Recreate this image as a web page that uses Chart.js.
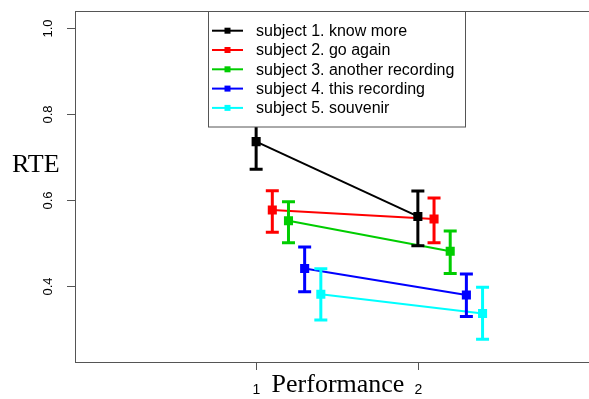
<!DOCTYPE html>
<html>
<head>
<meta charset="utf-8">
<script src="https://cdn.jsdelivr.net/npm/chart.js@4.4.0/dist/chart.umd.min.js"></script>
<style>
  html, body { margin: 0; padding: 0; background: #fff; overflow: hidden; }
  #wrap { width: 620px; height: 399px; }
</style>
</head>
<body>
<div id="wrap"><canvas id="rteChart" width="620" height="399"></canvas></div>
<script>
// performance sessions on the x axis
const performance = [1, 2];
const xTicks = [1, 2];
const yTicks = [0.4, 0.6, 0.8, 1.0];

const subjects = [
    'subject 1. know more',
    'subject 2. go again',
    'subject 3. another recording',
    'subject 4. this recording',
    'subject 5. souvenir'
];
const colors = ['#000000', '#FF0000', '#00CD00', '#0000FF', '#00FFFF'];
// small horizontal dodge per subject so the bars don't overlap
const dodge = [0, 0.1, 0.2, 0.3, 0.4];

// mean RTE, lower and upper error bar ends (session 1, session 2)
const subj1 = [0.736, 0.562];
const subj1Lo = [0.672, 0.494];
const subj1Hi = [0.800, 0.621];

const subj2 = [0.577, 0.556];
const subj2Lo = [0.525, 0.501];
const subj2Hi = [0.622, 0.605];

const subj3 = [0.552, 0.481];
const subj3Lo = [0.501, 0.429];
const subj3Hi = [0.596, 0.528];

const subj4 = [0.441, 0.379];
const subj4Lo = [0.387, 0.329];
const subj4Hi = [0.491, 0.428];

const subj5 = [0.381, 0.336];
const subj5Lo = [0.321, 0.276];
const subj5Hi = [0.440, 0.397];

const means = [subj1, subj2, subj3, subj4, subj5];
const lows = [subj1Lo, subj2Lo, subj3Lo, subj4Lo, subj5Lo];
const highs = [subj1Hi, subj2Hi, subj3Hi, subj4Hi, subj5Hi];

const datasets = subjects.map((name, i) => ({
    label: name,
    data: performance.map((p, j) => ({ x: p + dodge[i], y: means[i][j], lo: lows[i][j], hi: highs[i][j] })),
    borderColor: colors[i],
    backgroundColor: colors[i],
    borderWidth: 2,
    pointStyle: 'rect',
    pointRadius: 5,
    pointHoverRadius: 5,
    tension: 0
}));

const axisGray = '#555555';

const errorBars = {
    id: 'errorBars',
    afterDatasetsDraw(chart) {
        const ctx = chart.ctx;
        const xs = chart.scales.x, ys = chart.scales.y;
        ctx.save();
        chart.data.datasets.forEach(ds => {
            ctx.strokeStyle = ds.borderColor;
            ctx.lineWidth = 3;
            ds.data.forEach(d => {
                const px = xs.getPixelForValue(d.x);
                const yLo = ys.getPixelForValue(d.lo);
                const yHi = ys.getPixelForValue(d.hi);
                ctx.beginPath();
                ctx.moveTo(px, yLo); ctx.lineTo(px, yHi);
                ctx.moveTo(px - 6.5, yLo); ctx.lineTo(px + 6.5, yLo);
                ctx.moveTo(px - 6.5, yHi); ctx.lineTo(px + 6.5, yHi);
                ctx.stroke();
            });
        });
        ctx.restore();
    }
};

const rAxes = {
    id: 'rAxes',
    afterDraw(chart) {
        const ctx = chart.ctx;
        const a = chart.chartArea;
        const xs = chart.scales.x, ys = chart.scales.y;
        ctx.save();
        // box
        ctx.strokeStyle = axisGray;
        ctx.lineWidth = 1;
        ctx.strokeRect(Math.round(a.left) + 0.5, Math.round(a.top) + 0.5,
            Math.round(a.right - a.left), Math.round(a.bottom - a.top));

        // y ticks and rotated labels
        ctx.fillStyle = '#000';
        ctx.font = '13px "Liberation Sans", Arial, sans-serif';
        yTicks.forEach(v => {
            const py = Math.round(ys.getPixelForValue(v)) + 0.5;
            ctx.beginPath();
            ctx.moveTo(a.left - 8, py); ctx.lineTo(a.left, py);
            ctx.stroke();
            ctx.save();
            ctx.translate(52, py);
            ctx.rotate(-Math.PI / 2);
            ctx.textAlign = 'center';
            ctx.textBaseline = 'alphabetic';
            ctx.fillText(v.toFixed(1), 0, 0);
            ctx.restore();
        });

        // x ticks and labels
        xTicks.forEach(v => {
            const px = Math.round(xs.getPixelForValue(v)) + 0.5;
            ctx.beginPath();
            ctx.moveTo(px, a.bottom); ctx.lineTo(px, a.bottom + 8);
            ctx.stroke();
            ctx.textAlign = 'center';
            ctx.textBaseline = 'alphabetic';
            ctx.font = '14px "Liberation Sans", Arial, sans-serif';
            ctx.fillText(String(v), px, 394);
        });

        // axis titles
        ctx.font = '26px "Liberation Serif", "Times New Roman", serif';
        ctx.textAlign = 'left';
        ctx.fillText('RTE', 12, 172);
        ctx.textAlign = 'center';
        ctx.fillText('Performance', 338, 392);

        // legend
        const lx = 208.5, ly = Math.round(a.top) + 0.5, lw = 257, lh = 115.5;
        ctx.fillStyle = '#fff';
        ctx.fillRect(lx, ly, lw, lh);
        ctx.strokeStyle = axisGray;
        ctx.strokeRect(lx, ly, lw, lh);
        ctx.font = '16px "Liberation Sans", Arial, sans-serif';
        ctx.textAlign = 'left';
        ctx.textBaseline = 'middle';
        chart.data.datasets.forEach((ds, i) => {
            const ry = 30.7 + i * 19.3;
            ctx.strokeStyle = ds.borderColor;
            ctx.lineWidth = 2;
            ctx.beginPath();
            ctx.moveTo(212, ry); ctx.lineTo(243, ry);
            ctx.stroke();
            ctx.fillStyle = ds.borderColor;
            ctx.fillRect(224.5, ry - 3, 6, 6);
            ctx.fillStyle = '#000';
            ctx.fillText(ds.label, 256, ry + 1);
        });
        ctx.restore();
    }
};

new Chart(document.getElementById('rteChart').getContext('2d'), {
    type: 'line',
    data: { datasets: datasets },
    options: {
        responsive: false,
        animation: false,
        events: [],
        layout: { padding: { left: 75, top: 11, right: 21, bottom: 37 } },
        plugins: {
            legend: { display: false },
            tooltip: { enabled: false }
        },
        scales: {
            x: { type: 'linear', min: -0.12, max: 3.12, display: false },
            y: { type: 'linear', min: 0.2233, max: 1.04, display: false }
        }
    },
    plugins: [errorBars, rAxes]
});
</script>
</body>
</html>
